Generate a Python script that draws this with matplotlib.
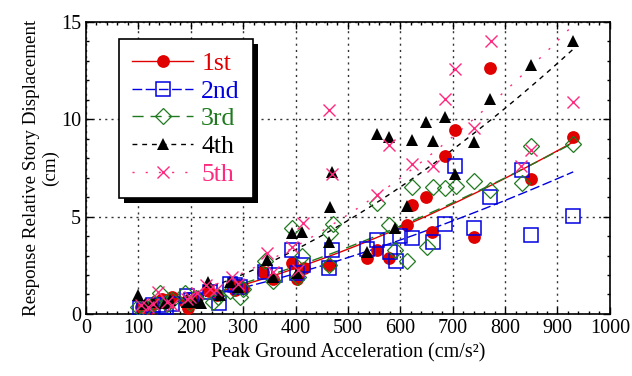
import numpy as np
import matplotlib

matplotlib.use("Agg")
import matplotlib.pyplot as plt
from matplotlib.lines import Line2D
from matplotlib.patches import Rectangle
from matplotlib.ticker import MultipleLocator

plt.rcParams["font.family"] = ["Liberation Serif", "DejaVu Serif"]

# peak ground acceleration (cm/s2) and response displacement (cm) for each story
pga_1st = [105, 118, 130, 145, 154, 165, 190, 195, 210, 235, 250, 284, 291, 300, 338, 357, 394, 402, 416, 464,
           536, 556, 579, 612, 623, 649, 660, 686, 704, 740, 772, 849, 930]
disp_1st = [0.35, 0.25, 0.5, 0.75, 0.72, 0.85, 0.6, 0.3, 0.8, 1.2, 0.95, 1.23, 1.5, 1.35, 2.15, 1.8, 2.6, 1.8, 2.35, 2.5,
            2.85, 3.3, 2.85, 4.55, 5.6, 6.0, 4.2, 8.1, 9.45, 3.95, 12.65, 6.95, 9.1]

pga_2nd = [103, 110, 128, 140, 152, 165, 192, 200, 208, 237, 254, 275, 284, 294, 342, 361, 394, 402, 415, 464,
           469, 536, 556, 580, 592, 599, 623, 662, 686, 704, 740, 772, 833, 849, 930]
disp_2nd = [0.3, 0.2, 0.45, 0.45, 0.35, 0.5, 0.9, 0.7, 0.7, 1.15, 0.55, 1.55, 1.5, 1.4, 2.15, 2.0, 3.3, 2.1, 2.5, 2.35,
            3.3, 3.35, 3.8, 3.2, 2.7, 4.0, 3.9, 3.7, 4.6, 7.6, 4.4, 6.0, 7.4, 4.05, 5.05]

pga_3rd = [100, 112, 130, 141, 155, 165, 189, 198, 210, 243, 252, 275, 294, 300, 342, 357, 393, 405, 412, 464,
           466, 471, 556, 579, 590, 612, 623, 650, 662, 685, 706, 740, 772, 833, 849, 930]
disp_3rd = [0.35, 0.3, 0.55, 1.06, 0.5, 0.7, 1.06, 0.55, 0.8, 0.63, 0.85, 1.2, 0.85, 1.3, 2.7, 1.7, 4.4, 1.9, 3.0, 2.5,
            4.15, 4.6, 5.7, 4.55, 3.3, 2.7, 6.5, 3.45, 6.5, 6.45, 6.55, 6.85, 6.35, 6.7, 8.6, 8.75]

pga_4th = [100, 112, 128, 151, 160, 192, 208, 220, 233, 256, 275, 290, 345, 357, 393, 402, 412, 463, 466, 469,
           536, 556, 579, 590, 612, 623, 649, 662, 686, 704, 740, 772, 849, 930]
disp_4th = [0.95, 0.5, 0.63, 0.55, 0.7, 0.6, 0.63, 0.55, 1.65, 0.97, 1.65, 1.4, 2.75, 1.9, 4.15, 2.1, 4.2, 3.7, 5.5, 7.3,
            3.2, 9.25, 9.1, 4.4, 5.55, 8.95, 9.85, 8.9, 10.1, 7.2, 8.85, 11.05, 12.8, 14.0]

pga_5th = [105, 118, 128, 138, 155, 165, 192, 198, 211, 230, 237, 249, 278, 290, 345, 357, 393, 405, 415, 464,
           469, 556, 579, 623, 662, 686, 704, 740, 773, 831, 849, 930]
disp_5th = [0.45, 0.35, 0.5, 1.15, 0.6, 0.45, 0.77, 0.85, 1.06, 1.5, 1.3, 1.23, 1.9, 1.55, 3.15, 2.15, 3.45, 2.25, 4.65, 10.45,
            7.2, 6.1, 8.65, 7.7, 7.6, 11.05, 12.6, 9.55, 14.0, 7.6, 8.4, 10.9]

labels = ["1st", "2nd", "3rd", "4th", "5th"]
colors = ["#e00000", "#0000e0", "#1f7a1f", "#000000", "#ff2a80"]

STYLES = [
    dict(marker="o", ms=9.2, mfc="#e00000", mew=0, dashes=None),
    dict(marker="s", ms=10.5, mfc="none", mew=1.1, dashes=(7, 2.5)),
    dict(marker="D", ms=8, mfc="none", mew=0.9, dashes=(8, 5)),
    dict(marker="^", ms=9, mfc="#000000", mew=0, dashes=(3.5, 3.5)),
    dict(marker="x", ms=9, mfc="none", mew=1.0, dashes=(1.5, 8)),
]

data = [(pga_1st, disp_1st), (pga_2nd, disp_2nd), (pga_3rd, disp_3rd), (pga_4th, disp_4th), (pga_5th, disp_5th)]

fig = plt.figure(figsize=(6.32, 3.76), dpi=100)
ax = fig.add_axes([0.136, 0.165, 0.829, 0.777])

handles = []
for i, ((x, y), label, color, st) in enumerate(zip(data, labels, colors, STYLES)):
    x = np.asarray(x, dtype=float)
    y = np.asarray(y, dtype=float)
    ls = "-" if st["dashes"] is None else (0, st["dashes"])

    # power-law fit y = a * x^b
    b, loga = np.polyfit(np.log(x), np.log(y), 1)
    xs = np.linspace(x.min(), x.max(), 200)
    ax.plot(xs, np.exp(loga) * xs ** b, color=color, lw=1.0, ls=ls, zorder=2)

    ax.plot(x, y, ls="none", marker=st["marker"], ms=st["ms"], mfc=st["mfc"], mec=color,
            mew=st["mew"], zorder=3 + i)

    handles.append(Line2D([], [], color=color, lw=1.0, ls=ls,
                          marker=st["marker"], ms=st["ms"], mfc=st["mfc"], mec=color, mew=st["mew"],
                          label=label))

ax.set_xlim(0, 1000)
ax.set_ylim(0, 15)
ax.xaxis.set_major_locator(MultipleLocator(100))
ax.xaxis.set_minor_locator(MultipleLocator(20))
ax.yaxis.set_major_locator(MultipleLocator(5))
ax.yaxis.set_minor_locator(MultipleLocator(1))
ax.tick_params(which="both", direction="in", top=True, right=True, labelsize=14.5, width=1.0)
ax.tick_params(which="major", length=5)
ax.tick_params(which="minor", length=2.5)
for sp in ax.spines.values():
    sp.set_linewidth(1.2)

ax.grid(True, which="major", ls=(0, (1.5, 3)), color="#333333", lw=1.0, zorder=1)
ax.set_axisbelow(True)

ax.set_xlabel("Peak Ground Acceleration (cm/s²)", fontsize=14.5, labelpad=4)
ax.set_ylabel("Response Relative Story Displacement\n(cm)", fontsize=13.7, linespacing=1.15, labelpad=1)

leg = ax.legend(handles=handles, loc="upper left", bbox_to_anchor=(0.063, 0.94), borderaxespad=0,
                fontsize=18.5, handlelength=2.4, handletextpad=0.3, labelspacing=0.18,
                borderpad=0.5, fancybox=False, framealpha=1, edgecolor="black")
leg.get_frame().set_linewidth(1.2)
for text, color in zip(leg.get_texts(), colors):
    text.set_color(color)

# solid black drop shadow behind the legend box
fig.canvas.draw()
bb = leg.get_window_extent().transformed(ax.transAxes.inverted())
dx = 5 / (ax.bbox.width)
dy = 5 / (ax.bbox.height)
ax.add_patch(Rectangle((bb.x0 + dx, bb.y0 - dy), bb.width, bb.height, transform=ax.transAxes,
                       facecolor="black", edgecolor="none", zorder=leg.get_zorder() - 0.1, clip_on=False))

fig.savefig("out.png", dpi=100)
